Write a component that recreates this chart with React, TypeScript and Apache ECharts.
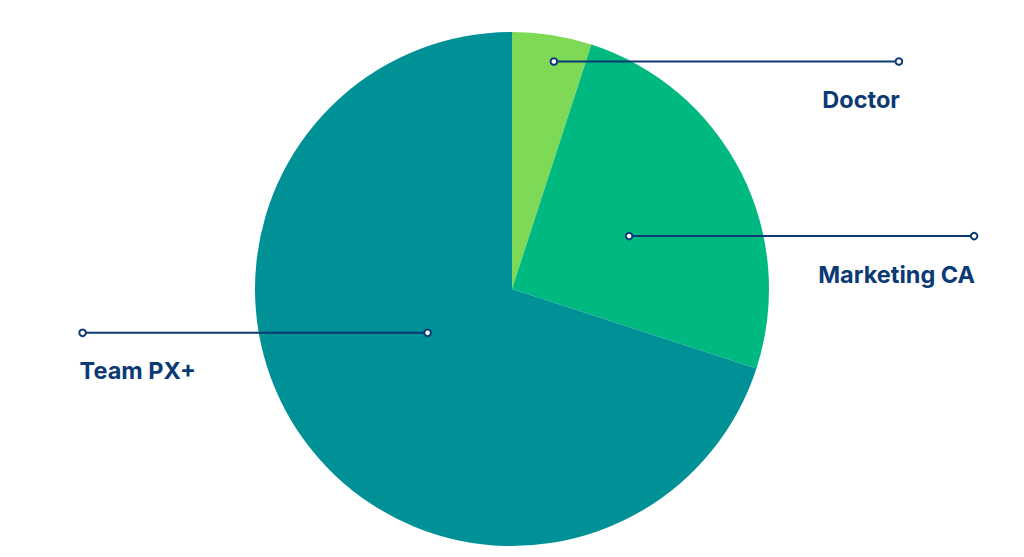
import React, { useEffect, useRef } from "react";
import * as echarts from "echarts";

const categories = ["Doctor", "Marketing CA", "Team PX+"];
const values = [5, 25, 70];
const colors = ["#7ed957", "#00b980", "#009196"];
// label anchor: fraction along slice angle, fraction of radius
const anchorT = [0.58, 0.53, 0.534];
const anchorR = [0.9, 0.5, 0.37];

const CX = 512;
const CY = 289;
const R = 257;
const LINE_LEN = 345;
const NAVY = "#0b3a75";

export default function App() {
  const ref = useRef<HTMLDivElement>(null);
  useEffect(() => {
    document.body.style.margin = "0";
    const chart = echarts.init(ref.current!, undefined, { renderer: "svg" });
    const total = values.reduce((a, b) => a + b, 0);
    const graphics: any[] = [];
    let cum = 0;
    values.forEach((v, i) => {
      const a0 = (cum / total) * 360;
      const a1 = ((cum + v) / total) * 360;
      cum += v;
      const ang = ((a0 + (a1 - a0) * anchorT[i]) * Math.PI) / 180;
      const ax = CX + R * anchorR[i] * Math.sin(ang);
      const ay = CY - R * anchorR[i] * Math.cos(ang);
      const right = ax >= CX;
      const ex = right ? ax + LINE_LEN : ax - LINE_LEN;
      graphics.push({
        type: "line",
        shape: { x1: ax, y1: ay, x2: ex, y2: ay },
        style: { stroke: NAVY, lineWidth: 2 },
        z: 10,
      });
      [ax, ex].forEach((x) =>
        graphics.push({
          type: "circle",
          shape: { cx: x, cy: ay, r: 3.3 },
          style: { fill: "#ffffff", stroke: NAVY, lineWidth: 2 },
          z: 11,
        })
      );
      graphics.push({
        type: "text",
        x: right ? ex + 1 : ex - 3,
        y: ay + 38,
        style: {
          text: categories[i],
          fill: NAVY,
          font: "bold 23.5px Inter, 'Noto Sans', sans-serif",
          align: right ? "right" : "left",
          verticalAlign: "middle",
        },
        z: 11,
      });
    });
    chart.setOption({
      animation: false,
      backgroundColor: "#ffffff",
      series: [
        {
          type: "pie",
          center: [CX, CY],
          radius: R,
          startAngle: 90,
          clockwise: true,
          label: { show: false },
          labelLine: { show: false },
          emphasis: { disabled: true },
          data: categories.map((c, i) => ({
            name: c,
            value: values[i],
            itemStyle: { color: colors[i] },
          })),
        },
      ],
      graphic: graphics,
    });
    return () => chart.dispose();
  }, []);
  return <div ref={ref} style={{ width: 1024, height: 557 }} />;
}
